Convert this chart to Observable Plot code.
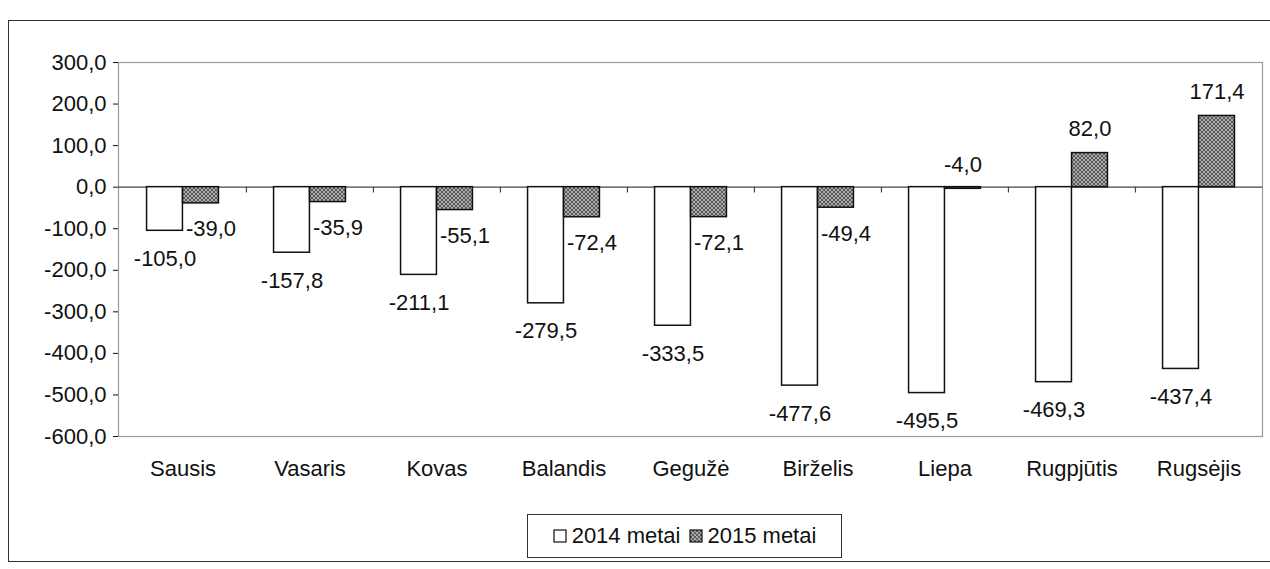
<!DOCTYPE html>
<html>
<head>
<meta charset="utf-8">
<script src="https://cdn.jsdelivr.net/npm/d3@7"></script>
<script src="https://cdn.jsdelivr.net/npm/@observablehq/plot@0.6"></script>
<style>
  html, body { margin: 0; padding: 0; background: #fff; }
  #wrap { position: relative; width: 1270px; height: 569px; overflow: hidden; font-family: "Liberation Sans", Arial, sans-serif; }
  #outer { position: absolute; left: 8px; top: 20px; width: 1264px; height: 542px; border: 1.5px solid #333; box-sizing: border-box; }
  #chart { position: absolute; left: 0; top: 0; }
  #legend { position: absolute; left: 527px; top: 514px; width: 315px; height: 44px; border: 1.5px solid #333; box-sizing: border-box;
            display: flex; align-items: center; justify-content: center; gap: 8px; font-size: 22px; color: #111; background: #fff; }
  #legend .item { display: flex; align-items: center; gap: 5px; }
</style>
</head>
<body>
<div id="wrap">
  <div id="outer"></div>
  <div id="chart"></div>
  <div id="legend"></div>
</div>
<script>
const months = ["Sausis", "Vasaris", "Kovas", "Balandis", "Gegužė", "Birželis", "Liepa", "Rugpjūtis", "Rugsėjis"];
const values2014 = [-105.0, -157.8, -211.1, -279.5, -333.5, -477.6, -495.5, -469.3, -437.4];
const values2015 = [-39.0, -35.9, -55.1, -72.4, -72.1, -49.4, -4.0, 82.0, 171.4];
const yTicks = [300, 200, 100, 0, -100, -200, -300, -400, -500, -600];
const seriesNames = ["2014 metai", "2015 metai"];

const fmt = d => d.toFixed(1).replace(".", ",");
const data2014 = months.map((m, i) => ({month: m, value: values2014[i], series: seriesNames[0]}));
const data2015 = months.map((m, i) => ({month: m, value: values2015[i], series: seriesNames[1]}));

const width = 1270, marginLeft = 118, marginRight = 8, marginTop = 62, marginBottom = 54, height = 490;
const bw = (width - marginLeft - marginRight) / months.length;
const barW = 36;
const outer = (bw - 2 * barW) / 2;

const chart = Plot.plot({
  width, height, marginLeft, marginRight, marginTop, marginBottom,
  style: {fontFamily: "Liberation Sans, Arial, sans-serif", fontSize: "22px", color: "#111", background: "transparent", overflow: "visible"},
  x: {type: "band", domain: months, padding: 0, tickSize: 0, tickPadding: 24, label: null},
  y: {domain: [-600, 300], ticks: yTicks, tickFormat: fmt, tickSize: 5, tickPadding: 7, label: null, line: true},
  marks: [
    Plot.frame({stroke: "#999", strokeWidth: 1.2}),
    Plot.ruleY([0], {stroke: "#444", strokeWidth: 1.3}),
    Plot.ruleX(months.slice(1), {x: d => d, y1: 0, y2: -14, dx: -bw / 2, stroke: "#444", strokeWidth: 1.2}),
    Plot.barY(data2014, {x: "month", y: "value", fill: "white", stroke: "#111", strokeWidth: 1.5,
      insetLeft: outer, insetRight: outer + barW}),
    Plot.barY(data2015, {x: "month", y: "value", fill: "url(#hatch2015)", stroke: "#111", strokeWidth: 1.5,
      insetLeft: outer + barW, insetRight: outer}),
    Plot.text(data2014, {x: "month", y: "value", text: d => fmt(d.value), dx: -barW / 2, dy: 28,
      fontSize: 22, fill: "#111"}),
    Plot.text(data2015.filter(d => d.value < -10), {x: "month", y: "value", text: d => fmt(d.value), dx: barW / 2 + 10, dy: 26,
      fontSize: 22, fill: "#111"}),
    Plot.text(data2015.filter(d => d.value >= -10), {x: "month", y: "value", text: d => fmt(d.value), dx: barW / 2, dy: -24,
      fontSize: 22, fill: "#111"})
  ]
});

const ns = "http://www.w3.org/2000/svg";
const defs = document.createElementNS(ns, "defs");
defs.innerHTML = `<pattern id="hatch2015" width="4" height="4" patternUnits="userSpaceOnUse">
  <rect width="4" height="4" fill="#5a5a5a"/>
  <path d="M0,0L4,4M4,0L0,4" stroke="#c0c0c0" stroke-width="0.8"/>
</pattern>`;
chart.insertBefore(defs, chart.firstChild);
document.getElementById("chart").appendChild(chart);

// legend
const legend = document.getElementById("legend");
const swFill = ["#fff", "url(#hatch2015)"];
seriesNames.forEach((name, i) => {
  const item = document.createElement("div");
  item.className = "item";
  item.innerHTML = `<svg width="14" height="14"><rect x="1" y="1" width="12" height="12" fill="${swFill[i]}" stroke="#111" stroke-width="1.2"/></svg><span>${name}</span>`;
  legend.appendChild(item);
});
</script>
</body>
</html>
